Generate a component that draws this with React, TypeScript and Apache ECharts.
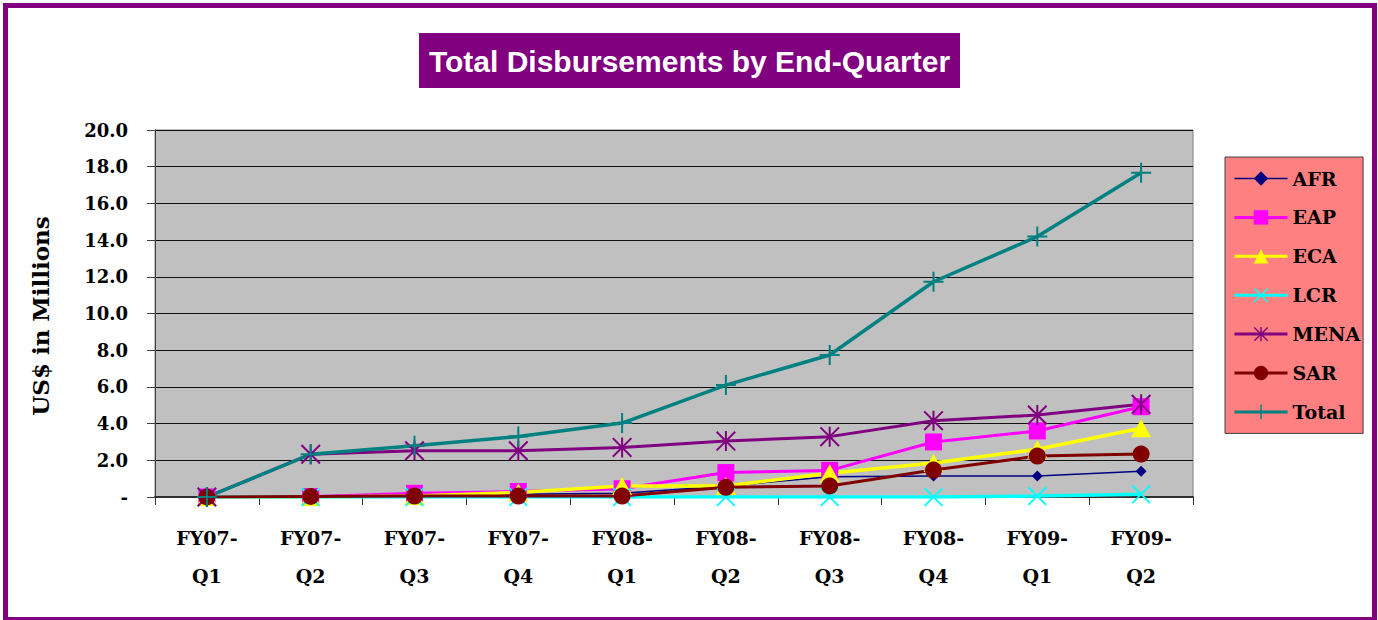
import { useEffect, useRef } from 'react';
import * as echarts from 'echarts';

const categories = [
  'FY07-\nQ1', 'FY07-\nQ2', 'FY07-\nQ3', 'FY07-\nQ4', 'FY08-\nQ1',
  'FY08-\nQ2', 'FY08-\nQ3', 'FY08-\nQ4', 'FY09-\nQ1', 'FY09-\nQ2',
];
const afr = [0, 0, 0.05, 0.15, 0.2, 0.6, 1.1, 1.15, 1.15, 1.4];
const eap = [0, 0.02, 0.2, 0.3, 0.45, 1.33, 1.45, 3.0, 3.6, 4.92];
const eca = [0, 0, 0.05, 0.25, 0.6, 0.6, 1.3, 1.85, 2.6, 3.75];
const lcr = [0, 0, 0, 0, 0, 0, 0, 0, 0.05, 0.15];
const mena = [0, 2.33, 2.52, 2.52, 2.7, 3.05, 3.29, 4.16, 4.47, 5.05];
const sar = [0, 0.03, 0.05, 0.05, 0.05, 0.53, 0.6, 1.47, 2.23, 2.34];
const total = [0, 2.33, 2.79, 3.3, 4.03, 6.1, 7.74, 11.73, 14.19, 17.67];

const titleText = 'Total Disbursements by End-Quarter';
const yAxisTitle = 'US$ in Millions';

const PLUS = 'path://M9,0 L11,0 L11,20 L9,20 Z M0,9 L20,9 L20,11 L0,11 Z';
const XMARK = 'path://M1.4,0 L20,18.6 L18.6,20 L0,1.4 Z M18.6,0 L20,1.4 L1.4,20 L0,18.6 Z';
const STAR = 'path://M9,0 L11,0 L11,20 L9,20 Z M1.4,0 L20,18.6 L18.6,20 L0,1.4 Z M18.6,0 L20,1.4 L1.4,20 L0,18.6 Z';

const SERIF = '"DejaVu Serif", serif';

function mk(name: string, data: number[], color: string, symbol: string, size: number | number[], width: number) {
  return {
    name,
    type: 'line',
    data,
    symbol,
    symbolSize: size,
    showSymbol: true,
    lineStyle: { color, width },
    itemStyle: { color },
    emphasis: { disabled: true },
  };
}

export default function App() {
  const ref = useRef<HTMLDivElement>(null);
  useEffect(() => {
    const chart = echarts.init(ref.current!, null, { renderer: 'svg' });
    chart.setOption({
      animation: false,
      backgroundColor: '#ffffff',
      grid: {
        left: 155, right: 185, top: 130, bottom: 123,
        show: true, backgroundColor: '#C0C0C0', borderColor: '#808080', borderWidth: 1,
        containLabel: false,
      },
      graphic: [
        {
          type: 'rect', shape: { x: 5.5, y: 5.5, width: 1369, height: 614 },
          style: { fill: 'none', stroke: '#800080', lineWidth: 5 }, silent: true,
        },
        {
          type: 'rect', shape: { x: 419, y: 33, width: 541, height: 55 },
          style: { fill: '#800080' }, silent: true,
        },
        {
          type: 'text', x: 689.5, y: 61,
          style: {
            text: titleText, fill: '#ffffff', font: 'bold 30px "Liberation Sans", Arial, sans-serif',
            textAlign: 'center', textVerticalAlign: 'middle',
          }, silent: true,
        },
        {
          type: 'text', x: 40, y: 316, rotation: Math.PI / 2,
          style: {
            text: yAxisTitle, fill: '#000000', font: 'bold 23px "DejaVu Serif", serif',
            textAlign: 'center', textVerticalAlign: 'middle',
          }, silent: true,
        },
      ],
      legend: {
        orient: 'vertical',
        left: 1225, top: 157,
        padding: [12, 3, 12, 8],
        backgroundColor: '#FF8080',
        borderColor: '#404040', borderWidth: 1,
        itemWidth: 53, itemHeight: 18, itemGap: 19.9,
        textStyle: { fontFamily: SERIF, fontWeight: 'bold', fontSize: 19, color: '#000' },
        lineStyle: { width: 3 },
        data: [
          { name: 'AFR', lineStyle: { width: 1.5 } },
          'EAP', 'ECA', 'LCR', 'MENA', 'SAR', 'Total',
        ],
      },
      xAxis: {
        type: 'category',
        data: categories,
        boundaryGap: true,
        axisLine: { lineStyle: { color: '#303030', width: 2 } },
        axisTick: { show: true, length: 8, lineStyle: { color: '#303030' } },
        axisLabel: {
          fontFamily: SERIF, fontWeight: 'bold', fontSize: 19, color: '#000',
          lineHeight: 38, margin: 22, interval: 0,
        },
        splitLine: { show: false },
      },
      yAxis: {
        type: 'value',
        min: 0, max: 20, interval: 2,
        axisLine: { show: true, lineStyle: { color: '#404040', width: 1 } },
        axisTick: { show: true, length: 8, lineStyle: { color: '#404040' } },
        axisLabel: {
          fontFamily: SERIF, fontWeight: 'bold', fontSize: 18, color: '#000', margin: 27,
          formatter: (v: number) => (v === 0 ? '-' : v.toFixed(1)),
        },
        splitLine: { show: true, lineStyle: { color: '#111', width: 1 } },
      },
      series: [
        mk('AFR', afr, '#000080', 'diamond', 11, 1.5),
        mk('EAP', eap, '#FF00FF', 'rect', 17, 3),
        mk('ECA', eca, '#FFFF00', 'triangle', [20, 18], 3.5),
        mk('LCR', lcr, '#00FFFF', XMARK, 19, 3.5),
        mk('MENA', mena, '#800080', STAR, 20, 3),
        mk('SAR', sar, '#800000', 'circle', 17, 3),
        mk('Total', total, '#008080', PLUS, 20, 3.5),
      ],
    });
    return () => chart.dispose();
  }, []);
  return (
    <div
      ref={ref}
      style={{ position: 'absolute', left: 0, top: 0, width: 1378, height: 620 }}
    />
  );
}
